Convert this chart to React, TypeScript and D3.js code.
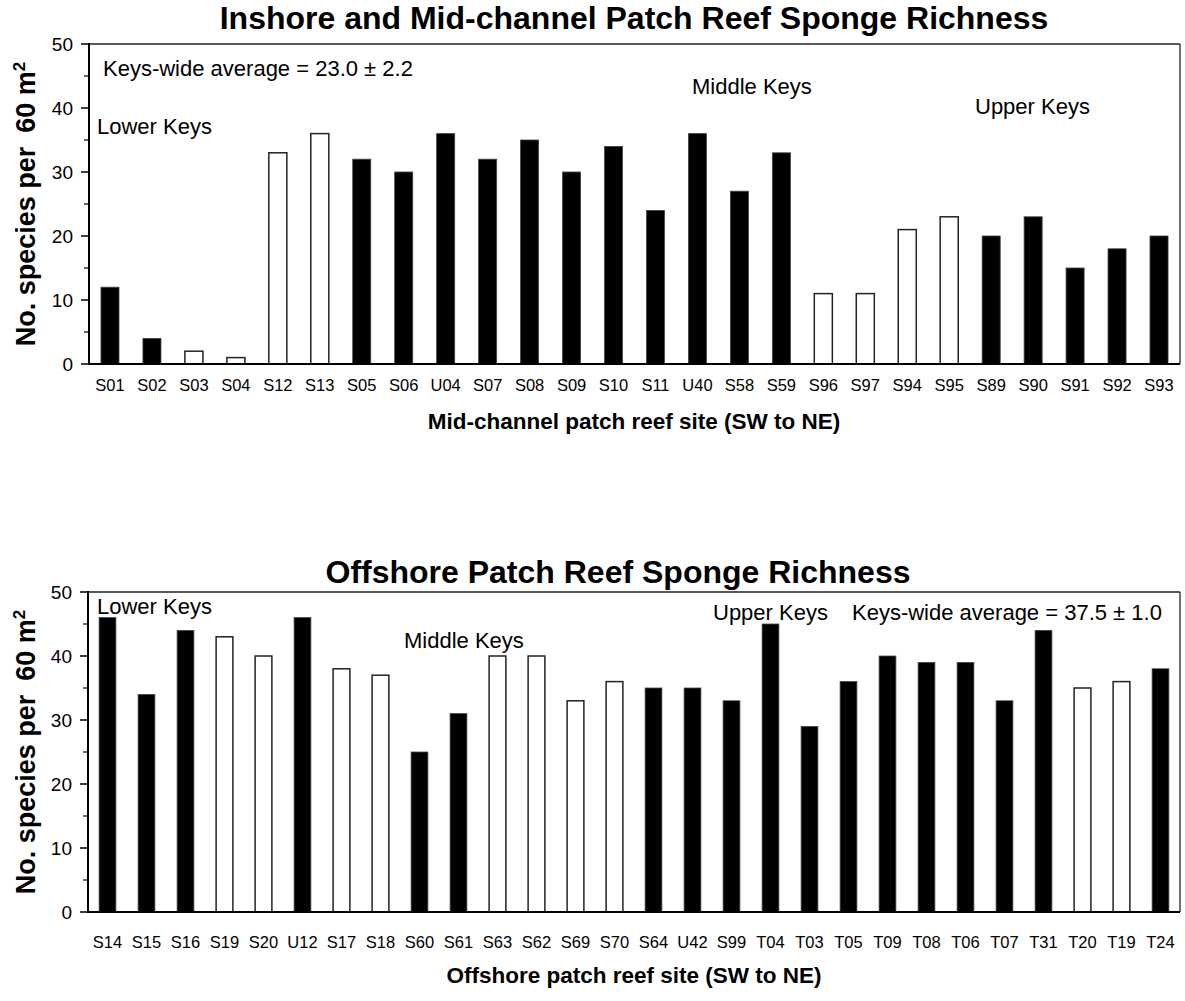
import React, { useEffect } from 'react';
import * as d3 from 'd3';

// ---------- Data ----------
const inshoreSites = ['S01','S02','S03','S04','S12','S13','S05','S06','U04','S07','S08','S09','S10','S11','U40','S58','S59','S96','S97','S94','S95','S89','S90','S91','S92','S93'];
const inshoreRichness = [12,4,2,1,33,36,32,30,36,32,35,30,34,24,36,27,33,11,11,21,23,20,23,15,18,20];
const inshoreFilled = [1,1,0,0,0,0,1,1,1,1,1,1,1,1,1,1,1,0,0,0,0,1,1,1,1,1];

const offshoreSites = ['S14','S15','S16','S19','S20','U12','S17','S18','S60','S61','S63','S62','S69','S70','S64','U42','S99','T04','T03','T05','T09','T08','T06','T07','T31','T20','T19','T24'];
const offshoreRichness = [46,34,44,43,40,46,38,37,25,31,40,40,33,36,35,35,33,45,29,36,40,39,39,33,44,35,36,38];
const offshoreFilled = [1,1,1,0,0,1,0,0,1,1,0,0,0,0,1,1,1,1,1,1,1,1,1,1,1,0,0,1];

const yTicks = [0,10,20,30,40,50];
const yMinorTicks = [5,15,25,35,45];

const FONT = '"Liberation Sans", Arial, sans-serif';

type Label = { text: string; x: number; y: number };

function Panel(props: {
  sites: string[]; values: number[]; filled: number[];
  top: number; bottom: number; left: number; right: number;
  title: string; titleX: number; titleY: number;
  xTitle: string; xTitleX: number; xTitleY: number; labelY: number;
  labels: Label[];
}) {
  const { sites, values, filled, top, bottom, left, right } = props;
  const x = d3.scaleBand<string>().domain(sites).range([left, right]).paddingInner(0.57).paddingOuter(0.285);
  const y = d3.scaleLinear().domain([0, 50]).range([bottom, top]);
  const mid = (top + bottom) / 2;
  return (
    <g fontFamily={FONT}>
      <text x={props.titleX} y={props.titleY} textAnchor="middle" fontWeight="bold" fontSize={32}>{props.title}</text>
      {sites.map((s, i) => (
        <rect key={s} x={x(s)} y={y(values[i])} width={x.bandwidth()} height={y(0) - y(values[i])}
          fill={filled[i] ? '#000' : '#fff'} stroke={filled[i] ? '#444' : '#222'} strokeWidth={filled[i] ? 0.8 : 1.5} />
      ))}
      <line x1={left} x2={right} y1={top} y2={top} stroke="#222" strokeWidth={1.3} />
      <line x1={right} x2={right} y1={top} y2={bottom} stroke="#222" strokeWidth={1.3} />
      <line x1={left} x2={right} y1={bottom} y2={bottom} stroke="#000" strokeWidth={2} />
      <line x1={left} x2={left} y1={top - 1} y2={bottom + 1} stroke="#000" strokeWidth={2} />
      {yTicks.map(t => (
        <g key={t}>
          <line x1={left - 8} x2={left} y1={y(t)} y2={y(t)} stroke="#000" strokeWidth={1.5} />
          <text x={left - 16} y={y(t)} dy="0.36em" textAnchor="end" fontSize={19}>{t}</text>
        </g>
      ))}
      {yMinorTicks.map(t => (
        <line key={t} x1={left - 5} x2={left} y1={y(t)} y2={y(t)} stroke="#000" strokeWidth={1.2} />
      ))}
      {sites.map(s => (
        <text key={s} x={(x(s) as number) + x.bandwidth() / 2} y={props.labelY} textAnchor="middle" fontSize={16.5}>{s}</text>
      ))}
      <text x={props.xTitleX} y={props.xTitleY} textAnchor="middle" fontWeight="bold" fontSize={22.5}>{props.xTitle}</text>
      <text transform={`translate(35,${mid}) rotate(-90)`} textAnchor="middle" fontWeight="bold" fontSize={27}>
        No. species per<tspan dx={14}>60 m</tspan><tspan dy={-10} fontSize={17}>2</tspan>
      </text>
      {props.labels.map((l, i) => (
        <text key={i} x={l.x} y={l.y} dy="0.35em" fontSize={22}>{l.text}</text>
      ))}
    </g>
  );
}

export default function App() {
  useEffect(() => { document.body.style.margin = '0'; }, []);
  return (
    <svg width={1185} height={1001} style={{ display: 'block', background: '#fff' }}>
      <Panel sites={inshoreSites} values={inshoreRichness} filled={inshoreFilled}
        top={44} bottom={364} left={89} right={1180}
        title="Inshore and Mid-channel Patch Reef Sponge Richness" titleX={634} titleY={29}
        xTitle="Mid-channel patch reef site (SW to NE)" xTitleX={634} xTitleY={429} labelY={391}
        labels={[
          { text: 'Keys-wide average = 23.0 ± 2.2', x: 103, y: 68 },
          { text: 'Lower Keys', x: 97, y: 126 },
          { text: 'Middle Keys', x: 692, y: 86 },
          { text: 'Upper Keys', x: 975, y: 106 },
        ]} />
      <Panel sites={offshoreSites} values={offshoreRichness} filled={offshoreFilled}
        top={592} bottom={912} left={88} right={1180}
        title="Offshore Patch Reef Sponge Richness" titleX={618} titleY={583}
        xTitle="Offshore patch reef site (SW to NE)" xTitleX={634} xTitleY={983} labelY={948}
        labels={[
          { text: 'Lower Keys', x: 97, y: 606 },
          { text: 'Middle Keys', x: 404, y: 640 },
          { text: 'Upper Keys', x: 713, y: 612 },
          { text: 'Keys-wide average = 37.5 ± 1.0', x: 852, y: 612 },
        ]} />
    </svg>
  );
}
